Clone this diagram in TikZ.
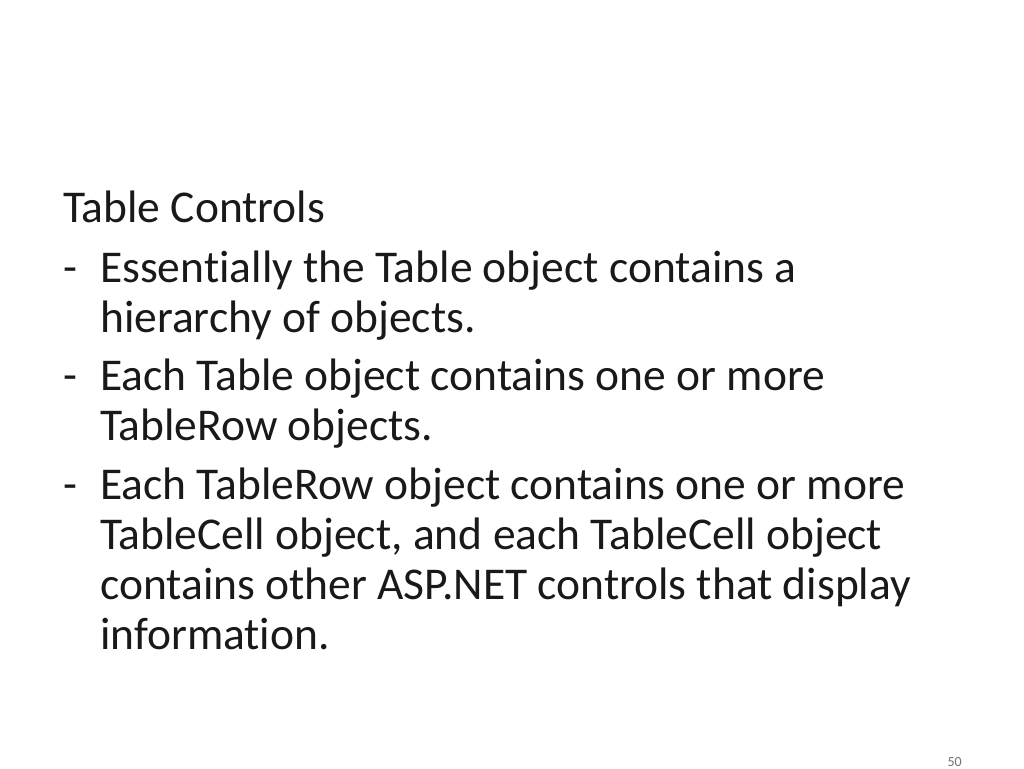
\documentclass[tikz,border=0pt]{standalone}
\usepackage{fontspec}
\setmainfont[RawFeature=-liga]{Carlito}
\begin{document}
\begin{tikzpicture}[x=1pt,y=-1pt,
  txt/.style={anchor=base west,inner sep=0pt,font=\fontsize{45.5}{50}\selectfont,text=black!90}]
\useasboundingbox (0,0) rectangle (1024,768);
\node[txt] (t0) at (63,222) {Table Controls};
\node[txt] (d1) at (63,282) {-};
\node[txt] (l1) at (100,282) {Essentially the Table object contains a};
\node[txt] (l2) at (100,332) {hierarchy of objects.};
\node[txt] (d2) at (63,390) {-};
\node[txt] (l3) at (100,390) {Each Table object contains one or more};
\node[txt] (l4) at (100,440) {TableRow objects.};
\node[txt] (d3) at (63,499) {-};
\node[txt] (l5) at (100,499) {Each TableRow object contains one or more};
\node[txt] (l6) at (100,549) {TableCell object, and each TableCell object};
\node[txt] (l7) at (100,599) {contains other ASP.NET controls that display};
\node[txt] (l8) at (100,649) {information.};
\node[anchor=base east,inner sep=0pt,font=\fontsize{14}{15}\selectfont,text=black!55] (pg) at (962,766) {50};
\end{tikzpicture}
\end{document}
